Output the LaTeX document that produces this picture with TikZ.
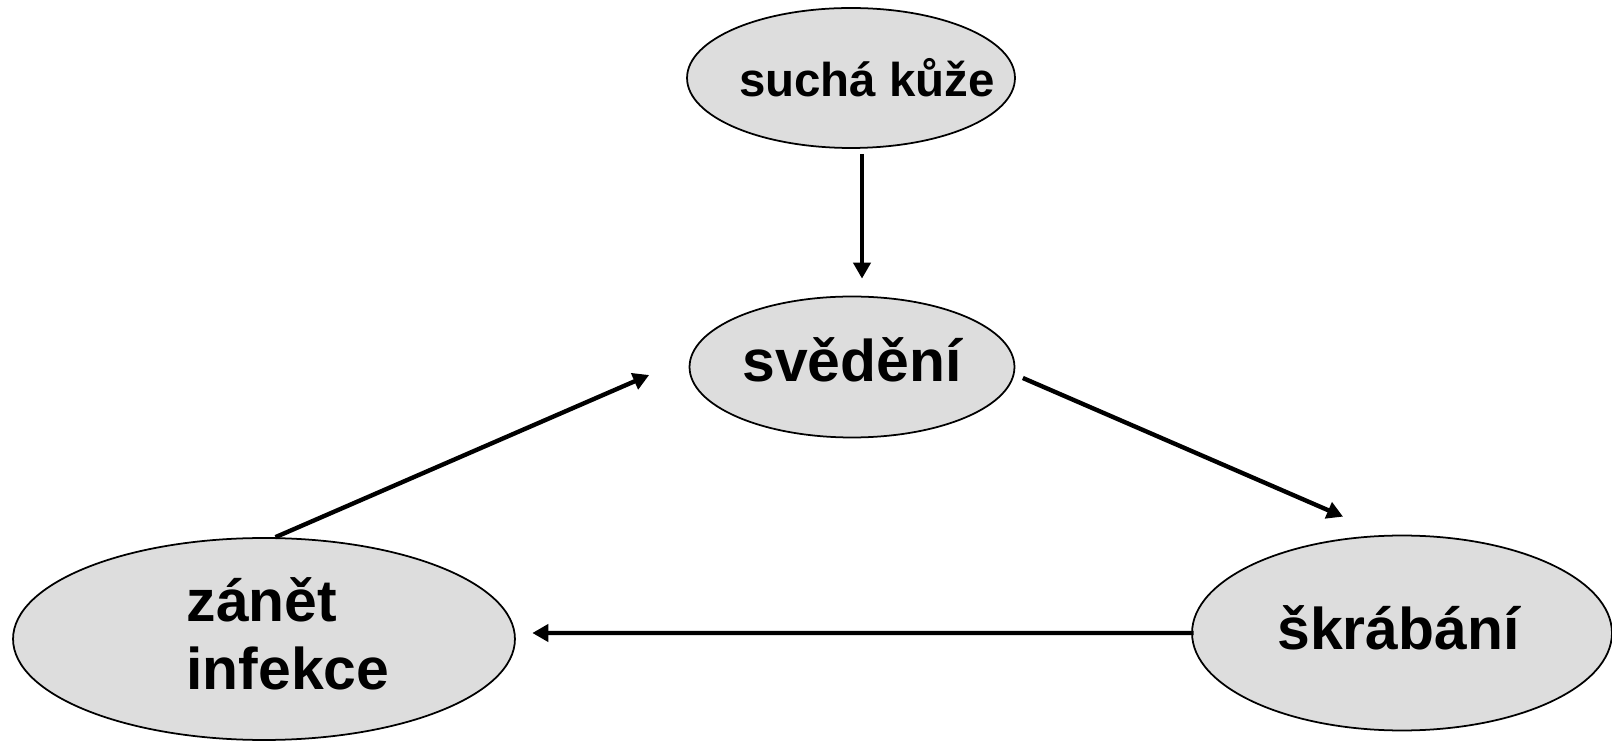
\documentclass[tikz,border=0pt]{standalone}
\usepackage{fontspec}
\setmainfont{Liberation Sans}
\usetikzlibrary{shapes.geometric,arrows.meta}
\definecolor{bubble}{RGB}{221,221,221}
\begin{document}
\begin{tikzpicture}[
x=0.02cm, y=-0.02cm,
nd/.style = {draw,ellipse,fill=bubble,line width=1pt,inner sep=0pt},
txt/.style = {font=\bfseries\fontsize{33.5}{38.6}\selectfont,align=left,inner sep=0pt},
arr/.style = {draw,-{Triangle[length=3.2mm,width=3.4mm]},line width=2.5pt}
]
  \useasboundingbox (0,0) rectangle (1612,742);

  \node[nd,minimum width=6.56cm,minimum height=2.8cm,
    label={[txt,font=\bfseries\fontsize{27}{32}\selectfont,xshift=0.32cm]center:suchá kůže}] (dry) at (851,78) {};
  \node[nd,minimum width=6.5cm,minimum height=2.82cm,
    label={[txt,yshift=0.14cm]center:svědění}] (itch) at (852,367) {};
  \node[nd,minimum width=10.04cm,minimum height=4.04cm,
    label={[txt,xshift=0.48cm,yshift=0.1cm]center:{zánět\\infekce}}] (infl) at (264,639) {};
  \node[nd,minimum width=8.4cm,minimum height=3.9cm,
    label={[txt,xshift=-0.07cm,yshift=0.1cm]center:škrábání}] (scr) at (1402,633) {};

  \path[arr] ([xshift=0.22cm,yshift=-0.1cm]dry.south) -- ([xshift=0.2cm,yshift=0.34cm]itch.north);
  \path[arr] ([xshift=0.15cm,yshift=-0.22cm]itch.east) -- ([xshift=-1.18cm,yshift=0.36cm]scr.north);
  \path[arr] ([xshift=0.23cm]infl.north) -- ([xshift=-0.79cm,yshift=-0.16cm]itch.west);
  \path[arr] ([xshift=0.05cm]scr.west) -- ([xshift=0.33cm,yshift=0.12cm]infl.east);

\end{tikzpicture}
\end{document}
